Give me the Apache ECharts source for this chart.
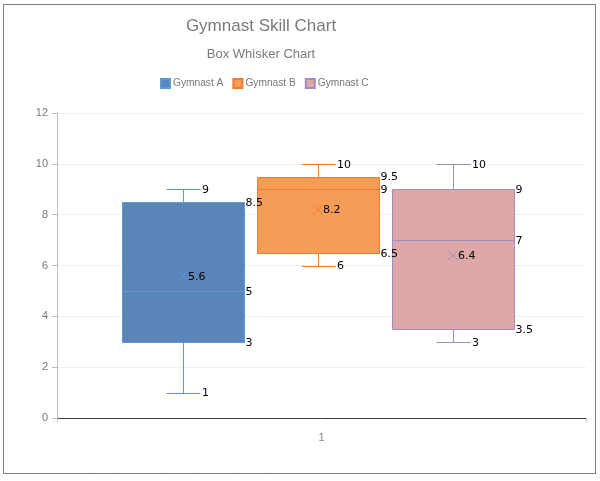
<!DOCTYPE html>
<html>
<head>
<meta charset="utf-8">
<script src="https://cdn.jsdelivr.net/npm/echarts@6/dist/echarts.min.js"></script>
<style>
html,body{margin:0;padding:0;background:#fff;}
#chart{width:600px;height:481px;}
</style>
</head>
<body>
<div id="chart"></div>
<script>
// ---- data ----
const categories = ['1'];
const seriesNames = ['Gymnast A', 'Gymnast B', 'Gymnast C'];
const minValues = [1, 6, 3];
const q1Values = [3, 6.5, 3.5];
const medianValues = [5, 9, 7];
const q3Values = [8.5, 9.5, 9];
const maxValues = [9, 10, 10];
const meanValues = [5.6, 8.2, 6.4];
const yTicks = [0, 2, 4, 6, 8, 10, 12];

// ---- styles ----
const fillColors = ['#5b84b8', '#f59d56', '#dea8a8'];
const lineColors = ['#5b9bd5', '#ed7d31', '#a08cc4'];
const boxWidthFrac = 0.231;
const stepFrac = 0.255;
const shiftFrac = -0.0066;
const capHalf = 17;
const labelFont = '11px "DejaVu Sans", sans-serif';
const textFont = '"Liberation Sans", sans-serif';

function makeRender(idx) {
  return function (params, api) {
    const band = api.size([1, 0])[0];
    const cx0 = api.coord([0, 0])[0];
    const cx = cx0 + band * (shiftFrac + (idx - 1) * stepFrac);
    const half = band * boxWidthFrac / 2;
    const yMin = api.coord([0, api.value(1)])[1];
    const yQ1 = api.coord([0, api.value(2)])[1];
    const yMed = api.coord([0, api.value(3)])[1];
    const yQ3 = api.coord([0, api.value(4)])[1];
    const yMax = api.coord([0, api.value(5)])[1];
    const yMean = api.coord([0, api.value(6)])[1];
    const lc = lineColors[idx];
    const lineStyle = { stroke: lc, lineWidth: 1 };
    const r = v => Math.round(v) + 0.5;
    const lbl = (text, x, y) => ({
      type: 'text', z2: 100,
      style: { text: String(text), x: x, y: y, fill: '#000', font: labelFont, align: 'left', verticalAlign: 'middle' }
    });
    const L = Math.round(cx - half) + 0.5, R = Math.round(cx + half) + 0.5;
    const children = [
      { type: 'line', shape: { x1: r(cx), y1: r(yMax), x2: r(cx), y2: r(yQ3) }, style: lineStyle },
      { type: 'line', shape: { x1: r(cx), y1: r(yQ1), x2: r(cx), y2: r(yMin) }, style: lineStyle },
      { type: 'line', shape: { x1: r(cx - capHalf), y1: r(yMax), x2: r(cx + capHalf), y2: r(yMax) }, style: lineStyle },
      { type: 'line', shape: { x1: r(cx - capHalf), y1: r(yMin), x2: r(cx + capHalf), y2: r(yMin) }, style: lineStyle },
      { type: 'rect', shape: { x: L, y: r(yQ3), width: R - L, height: r(yQ1) - r(yQ3) },
        style: { fill: fillColors[idx], stroke: lc, lineWidth: 1 } },
      { type: 'line', shape: { x1: L, y1: r(yMed), x2: R, y2: r(yMed) }, style: lineStyle },
      { type: 'line', shape: { x1: cx - 5, y1: yMean - 5, x2: cx + 5, y2: yMean + 5 }, style: lineStyle },
      { type: 'line', shape: { x1: cx - 5, y1: yMean + 5, x2: cx + 5, y2: yMean - 5 }, style: lineStyle },
      lbl(api.value(5), cx + capHalf + 2, yMax + 1),
      lbl(api.value(1), cx + capHalf + 2, yMin + 1),
      lbl(api.value(4), R + 1, yQ3 + 1),
      lbl(api.value(3), R + 1, yMed + 1),
      lbl(api.value(2), R + 1, yQ1 + 1),
      lbl(api.value(6), cx + 5, yMean + 1)
    ];
    return { type: 'group', children: children };
  };
}

const series = seriesNames.map((name, i) => ({
  name: name,
  type: 'custom',
  renderItem: makeRender(i),
  itemStyle: { color: fillColors[i], borderColor: lineColors[i], borderWidth: 1 },
  encode: { x: 0, y: [1, 2, 3, 4, 5] },
  data: [[0, minValues[i], q1Values[i], medianValues[i], q3Values[i], maxValues[i], meanValues[i]]]
}));

const chart = echarts.init(document.getElementById('chart'), null, { renderer: 'canvas' });
chart.setOption({
  animation: false,
  backgroundColor: '#fff',
  title: {
    text: 'Gymnast Skill Chart',
    subtext: 'Box Whisker Chart',
    left: 256,
    textAlign: 'center',
    top: 13,
    itemGap: 13,
    textStyle: { fontFamily: textFont, fontSize: 17, fontWeight: 'normal', color: '#7a7a7a' },
    subtextStyle: { fontFamily: textFont, fontSize: 13, color: '#7a7a7a' }
  },
  legend: {
    left: 155,
    top: 73,
    itemWidth: 9,
    itemHeight: 9,
    itemGap: 9,
    icon: 'rect',
    textStyle: { fontFamily: textFont, fontSize: 10.2, color: '#767676', padding: [0, 0, 0, -2] },
    data: seriesNames
  },
  grid: { left: 57, right: 14, top: 113, bottom: 63, containLabel: false },
  xAxis: {
    type: 'category',
    data: categories,
    boundaryGap: true,
    axisLine: { lineStyle: { color: '#404040', width: 1 } },
    axisTick: { show: true, length: 4, lineStyle: { color: '#bfbfbf' } },
    axisLabel: { margin: 14, color: '#8a7f99', fontFamily: textFont, fontSize: 11 },
    splitLine: { show: false }
  },
  yAxis: {
    type: 'value',
    min: 0, max: 12, interval: 2,
    axisLine: { show: true, lineStyle: { color: '#bfbfbf' } },
    axisTick: { show: true, length: 5, lineStyle: { color: '#bfbfbf' } },
    axisLabel: { margin: 9, color: '#7a7a7a', fontFamily: textFont, fontSize: 11,
      formatter: v => (yTicks.indexOf(v) >= 0 ? String(v) : '') },
    splitLine: { lineStyle: { color: '#efefef' } }
  },
  graphic: [{
    type: 'rect', silent: true, z: 100,
    shape: { x: 3.5, y: 4.5, width: 592, height: 469 },
    style: { fill: 'none', stroke: '#000', lineWidth: 1, lineDash: [1, 1] }
  }],
  series: series
});
</script>
</body>
</html>
